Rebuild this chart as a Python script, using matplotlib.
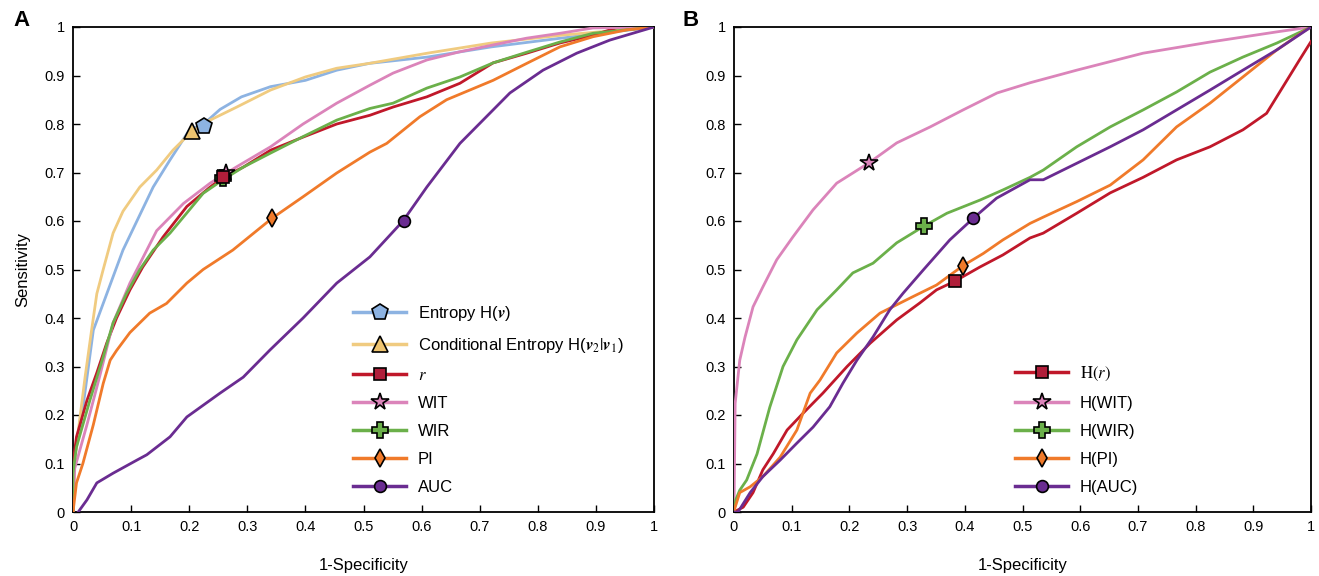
import matplotlib
matplotlib.use("Agg")
import matplotlib.pyplot as plt
from matplotlib.lines import Line2D
from matplotlib.ticker import FormatStrFormatter

plt.rcParams['font.family'] = ['Liberation Sans', 'DejaVu Sans']
plt.rcParams['mathtext.fontset'] = 'stix'

# ---------------- Panel A data ----------------
a_ent_x = [0, 0.0, 0.012, 0.035, 0.052, 0.069, 0.086, 0.11, 0.138, 0.167, 0.2, 0.225, 0.253, 0.29, 0.34, 0.40, 0.454, 0.51, 0.61, 0.72, 0.84, 1.0]
a_ent_y = [0, 0.10, 0.17, 0.375, 0.43, 0.485, 0.54, 0.60, 0.67, 0.726, 0.787, 0.80, 0.83, 0.856, 0.877, 0.89, 0.911, 0.925, 0.938, 0.959, 0.977, 1.0]

a_cond_x = [0, 0.003, 0.021, 0.032, 0.041, 0.052, 0.069, 0.086, 0.115, 0.144, 0.172, 0.204, 0.236, 0.282, 0.34, 0.40, 0.454, 0.51, 0.61, 0.72, 0.84, 1.0]
a_cond_y = [0, 0.11, 0.28, 0.375, 0.45, 0.50, 0.575, 0.62, 0.67, 0.705, 0.746, 0.784, 0.808, 0.835, 0.87, 0.897, 0.915, 0.925, 0.946, 0.967, 0.983, 1.0]

a_r_x = [0, 0.0, 0.006, 0.024, 0.041, 0.058, 0.075, 0.098, 0.12, 0.155, 0.196, 0.236, 0.258, 0.293, 0.34, 0.396, 0.454, 0.511, 0.551, 0.609, 0.666, 0.723, 0.781, 0.838, 0.895, 0.94, 1.0]
a_r_y = [0, 0.10, 0.155, 0.23, 0.287, 0.348, 0.40, 0.458, 0.505, 0.567, 0.63, 0.67, 0.69, 0.711, 0.746, 0.773, 0.80, 0.818, 0.835, 0.856, 0.884, 0.926, 0.946, 0.967, 0.983, 1.0, 1.0]

a_wit_x = [0, 0.003, 0.024, 0.046, 0.069, 0.098, 0.11, 0.144, 0.19, 0.236, 0.282, 0.34, 0.396, 0.454, 0.511, 0.551, 0.609, 0.666, 0.723, 0.781, 0.838, 0.895, 1.0]
a_wit_y = [0, 0.09, 0.18, 0.28, 0.39, 0.472, 0.50, 0.58, 0.636, 0.678, 0.712, 0.753, 0.80, 0.843, 0.88, 0.905, 0.932, 0.949, 0.963, 0.977, 0.987, 0.998, 1.0]

a_wir_x = [0, 0.0, 0.006, 0.029, 0.052, 0.069, 0.092, 0.115, 0.138, 0.167, 0.224, 0.258, 0.293, 0.34, 0.396, 0.454, 0.511, 0.551, 0.609, 0.666, 0.723, 0.781, 0.838, 0.895, 1.0]
a_wir_y = [0, 0.08, 0.134, 0.23, 0.32, 0.39, 0.45, 0.50, 0.54, 0.575, 0.657, 0.685, 0.711, 0.74, 0.774, 0.808, 0.832, 0.843, 0.874, 0.897, 0.926, 0.948, 0.969, 0.987, 1.0]

a_pi_x = [0, 0.006, 0.017, 0.035, 0.052, 0.064, 0.075, 0.098, 0.132, 0.161, 0.196, 0.224, 0.275, 0.343, 0.396, 0.454, 0.511, 0.54, 0.597, 0.643, 0.723, 0.781, 0.838, 0.895, 0.953, 1.0]
a_pi_y = [0, 0.06, 0.10, 0.18, 0.265, 0.313, 0.333, 0.37, 0.41, 0.43, 0.472, 0.50, 0.54, 0.606, 0.65, 0.699, 0.742, 0.76, 0.815, 0.85, 0.89, 0.925, 0.959, 0.98, 0.994, 1.0]

a_auc_x = [0.009, 0.024, 0.041, 0.069, 0.11, 0.127, 0.167, 0.196, 0.253, 0.293, 0.339, 0.396, 0.454, 0.511, 0.568, 0.609, 0.666, 0.752, 0.809, 0.867, 0.924, 1.0]
a_auc_y = [0, 0.025, 0.06, 0.08, 0.107, 0.118, 0.155, 0.196, 0.245, 0.278, 0.334, 0.40, 0.472, 0.526, 0.60, 0.67, 0.76, 0.864, 0.911, 0.946, 0.973, 1.0]

a_marker_x = [0.225, 0.205, 0.258, 0.263, 0.258, 0.343, 0.570]
a_marker_y = [0.795, 0.785, 0.690, 0.700, 0.688, 0.606, 0.600]
a_labels = [r'Entropy H($\boldsymbol{v}$)',
            r'Conditional Entropy H($\boldsymbol{v}_2|\boldsymbol{v}_1$)',
            r'$r$', 'WIT', 'WIR', 'PI', 'AUC']

# ---------------- Panel B data ----------------
b_r_x = [0, 0.016, 0.033, 0.05, 0.068, 0.092, 0.12, 0.154, 0.196, 0.236, 0.282, 0.322, 0.351, 0.383, 0.426, 0.466, 0.513, 0.536, 0.594, 0.652, 0.709, 0.767, 0.825, 0.882, 0.923, 0.951, 0.98, 1.0]
b_r_y = [0, 0.01, 0.04, 0.087, 0.12, 0.169, 0.204, 0.245, 0.30, 0.348, 0.396, 0.431, 0.458, 0.476, 0.505, 0.53, 0.565, 0.575, 0.616, 0.658, 0.69, 0.726, 0.753, 0.788, 0.822, 0.876, 0.932, 0.97]

b_wit_x = [0, 0.002, 0.01, 0.019, 0.033, 0.05, 0.074, 0.102, 0.137, 0.178, 0.234, 0.282, 0.34, 0.397, 0.456, 0.513, 0.594, 0.709, 0.825, 0.941, 1.0]
b_wit_y = [0, 0.224, 0.313, 0.36, 0.423, 0.464, 0.52, 0.567, 0.623, 0.678, 0.72, 0.761, 0.794, 0.829, 0.864, 0.885, 0.911, 0.946, 0.969, 0.99, 1.0]

b_wir_x = [0, 0.003, 0.01, 0.022, 0.04, 0.062, 0.085, 0.109, 0.144, 0.178, 0.206, 0.241, 0.282, 0.33, 0.369, 0.426, 0.466, 0.513, 0.536, 0.594, 0.652, 0.709, 0.767, 0.825, 0.882, 0.941, 1.0]
b_wir_y = [0, 0.025, 0.045, 0.066, 0.12, 0.216, 0.30, 0.355, 0.417, 0.458, 0.493, 0.513, 0.555, 0.59, 0.616, 0.643, 0.664, 0.690, 0.705, 0.753, 0.794, 0.829, 0.866, 0.907, 0.938, 0.967, 1.0]

b_pi_x = [0, 0.002, 0.01, 0.028, 0.05, 0.08, 0.109, 0.132, 0.149, 0.178, 0.213, 0.253, 0.31, 0.351, 0.397, 0.432, 0.466, 0.513, 0.536, 0.594, 0.652, 0.709, 0.767, 0.825, 0.882, 0.941, 0.986, 1.0]
b_pi_y = [0, 0.01, 0.04, 0.052, 0.073, 0.113, 0.169, 0.245, 0.272, 0.328, 0.369, 0.41, 0.444, 0.468, 0.508, 0.533, 0.561, 0.595, 0.608, 0.64, 0.674, 0.726, 0.794, 0.843, 0.897, 0.953, 0.99, 1.0]

b_auc_x = [0, 0.007, 0.028, 0.05, 0.08, 0.109, 0.137, 0.166, 0.189, 0.213, 0.241, 0.27, 0.293, 0.328, 0.374, 0.415, 0.455, 0.513, 0.536, 0.594, 0.652, 0.709, 0.767, 0.825, 0.882, 0.941, 1.0]
b_auc_y = [0, 0.0, 0.04, 0.073, 0.107, 0.142, 0.175, 0.217, 0.266, 0.313, 0.361, 0.417, 0.451, 0.499, 0.561, 0.606, 0.647, 0.685, 0.685, 0.719, 0.753, 0.788, 0.829, 0.87, 0.911, 0.953, 1.0]

b_marker_x = [0.383, 0.234, 0.330, 0.397, 0.415]
b_marker_y = [0.476, 0.720, 0.590, 0.508, 0.606]
b_labels = [r'$\mathrm{H}(r)$', 'H(WIT)', 'H(WIR)', 'H(PI)', 'H(AUC)']

tick_vals = [0, 0.1, 0.2, 0.3, 0.4, 0.5, 0.6, 0.7, 0.8, 0.9, 1]

# ---------------- styles ----------------
C_BLUE = '#8DB3E2'
C_YEL = '#F0CB80'
C_RED = '#C0182A'
C_PINK = '#DB84BA'
C_GREEN = '#6BB04A'
C_ORANGE = '#F07A2A'
C_PURP = '#6A2C91'

LW = 2.0

fig = plt.figure(figsize=(13.19, 5.76), dpi=100)
axA = fig.add_axes([73/1319, 64/576, 581/1319, 485/576])
axB = fig.add_axes([734/1319, 64/576, 577/1319, 485/576])

def style_axes(ax):
    ax.set_xlim(0, 1)
    ax.set_ylim(0, 1)
    ax.set_xticks(tick_vals)
    ax.set_yticks(tick_vals)
    ax.xaxis.set_major_formatter(FormatStrFormatter('%g'))
    ax.yaxis.set_major_formatter(FormatStrFormatter('%g'))
    ax.tick_params(direction='in', length=5, width=1, labelsize=10.5, pad=6)
    for s in ax.spines.values():
        s.set_linewidth(1.3)
    ax.set_xlabel('1-Specificity', fontsize=12, labelpad=17)

# Panel A: (x, y, line colour, marker, face colour, marker size, zorder)
specA = [
    (a_ent_x, a_ent_y, C_BLUE, 'p', C_BLUE, 12, 5),
    (a_cond_x, a_cond_y, C_YEL, '^', '#EEC470', 11, 5),
    (a_r_x, a_r_y, C_RED, 's', '#B01E3A', 9, 7),
    (a_wit_x, a_wit_y, C_PINK, '*', C_PINK, 13, 6),
    (a_wir_x, a_wir_y, C_GREEN, 'P', C_GREEN, 11, 5),
    (a_pi_x, a_pi_y, C_ORANGE, 'd', C_ORANGE, 9, 5),
    (a_auc_x, a_auc_y, C_PURP, 'o', C_PURP, 8.5, 5),
]
handles = []
for xs, ys, c, m, fc, ms, z in specA:
    axA.plot(xs, ys, color=c, lw=LW, zorder=3)
for i, (xs, ys, c, m, fc, ms, z) in enumerate(specA):
    axA.plot([a_marker_x[i]], [a_marker_y[i]], marker=m, ms=ms, mfc=fc,
             mec='black', mew=1.2, ls='none', zorder=z)
    handles.append(Line2D([], [], color=c, lw=2.5, marker=m, ms=ms, mfc=fc,
                          mec='black', mew=1.2))
style_axes(axA)
axA.set_ylabel('Sensitivity', fontsize=12, labelpad=10)
axA.legend(handles, a_labels, loc='lower left',
           bbox_to_anchor=((353 - 73) / 581, 0.035),
           frameon=False, fontsize=12, handlelength=3.2, handletextpad=0.7,
           labelspacing=0.78, borderpad=0, borderaxespad=0)

# Panel B
specB = [
    (b_r_x, b_r_y, C_RED, 's', '#B01E3A', 9),
    (b_wit_x, b_wit_y, C_PINK, '*', C_PINK, 13),
    (b_wir_x, b_wir_y, C_GREEN, 'P', C_GREEN, 12),
    (b_pi_x, b_pi_y, C_ORANGE, 'd', C_ORANGE, 9),
    (b_auc_x, b_auc_y, C_PURP, 'o', C_PURP, 8.5),
]
handlesB = []
for xs, ys, c, m, fc, ms in specB:
    axB.plot(xs, ys, color=c, lw=LW, zorder=3)
for i, (xs, ys, c, m, fc, ms) in enumerate(specB):
    axB.plot([b_marker_x[i]], [b_marker_y[i]], marker=m, ms=ms, mfc=fc,
             mec='black', mew=1.2, ls='none', zorder=6)
    handlesB.append(Line2D([], [], color=c, lw=2.5, marker=m, ms=ms, mfc=fc,
                           mec='black', mew=1.2))
style_axes(axB)
axB.legend(handlesB, b_labels, loc='lower left',
           bbox_to_anchor=((1015 - 734) / 577, 0.035),
           frameon=False, fontsize=12, handlelength=3.2, handletextpad=0.7,
           labelspacing=0.78, borderpad=0, borderaxespad=0)

fig.text(13/1319, 1 - 20/576, 'A', fontsize=16, fontweight='bold', va='center')
fig.text(683/1319, 1 - 20/576, 'B', fontsize=16, fontweight='bold', va='center')

fig.savefig('out.png', dpi=100)
